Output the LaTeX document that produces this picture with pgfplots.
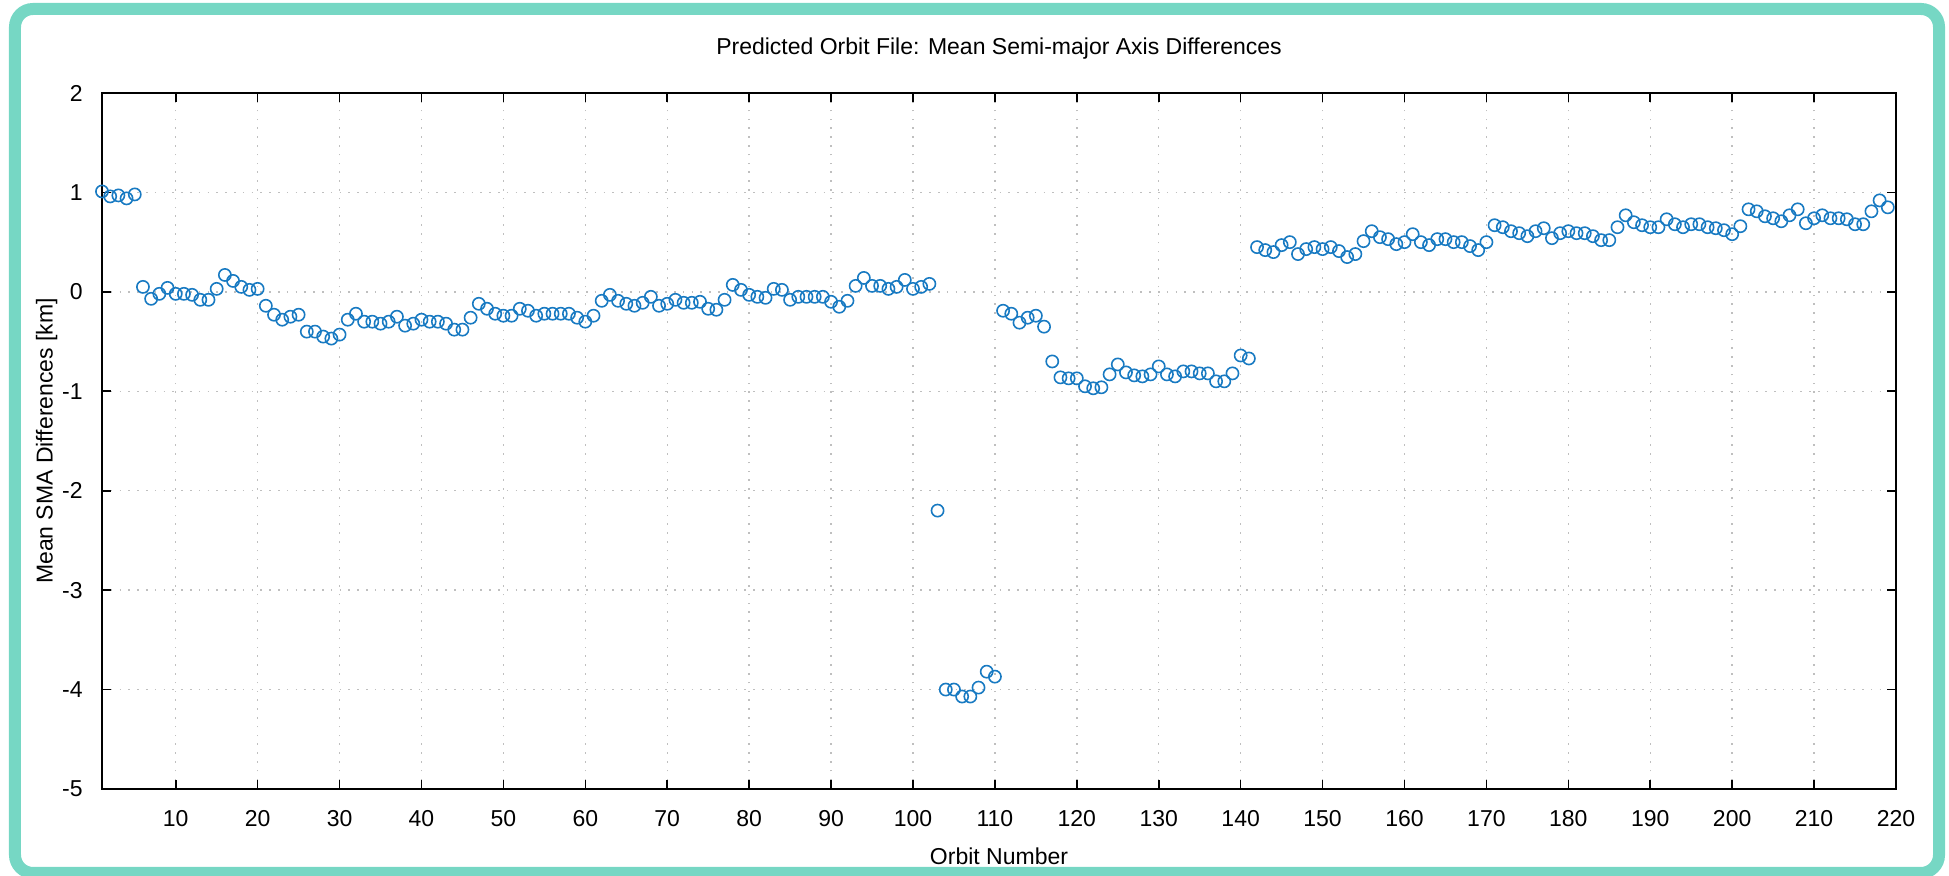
\documentclass[border=0pt]{standalone}
\usepackage{fontspec}
\setmainfont{Liberation Sans}
\usepackage{pgfplots}
\usepackage{pgfplotstable}
\pgfplotsset{compat=1.18}

\definecolor{octblue}{RGB}{24,122,194}
\definecolor{frameteal}{RGB}{118,215,196}

% orbit number vs. mean SMA difference [km]
\pgfplotstableread{
n d
1 1.01
2 0.96
3 0.97
4 0.94
5 0.98
6 0.05
7 -0.07
8 -0.02
9 0.04
10 -0.02
11 -0.02
12 -0.03
13 -0.08
14 -0.08
15 0.03
16 0.17
17 0.11
18 0.05
19 0.02
20 0.03
21 -0.14
22 -0.23
23 -0.28
24 -0.25
25 -0.23
26 -0.40
27 -0.40
28 -0.45
29 -0.47
30 -0.43
31 -0.28
32 -0.22
33 -0.30
34 -0.30
35 -0.32
36 -0.30
37 -0.25
38 -0.34
39 -0.32
40 -0.28
41 -0.30
42 -0.30
43 -0.32
44 -0.38
45 -0.38
46 -0.26
47 -0.12
48 -0.17
49 -0.22
50 -0.24
51 -0.24
52 -0.17
53 -0.19
54 -0.24
55 -0.22
56 -0.22
57 -0.22
58 -0.22
59 -0.26
60 -0.30
61 -0.24
62 -0.09
63 -0.03
64 -0.09
65 -0.12
66 -0.14
67 -0.11
68 -0.05
69 -0.14
70 -0.12
71 -0.08
72 -0.11
73 -0.11
74 -0.10
75 -0.17
76 -0.18
77 -0.08
78 0.07
79 0.02
80 -0.03
81 -0.05
82 -0.06
83 0.03
84 0.02
85 -0.08
86 -0.05
87 -0.05
88 -0.05
89 -0.05
90 -0.10
91 -0.15
92 -0.09
93 0.06
94 0.14
95 0.06
96 0.06
97 0.03
98 0.05
99 0.12
100 0.03
101 0.05
102 0.08
103 -2.20
104 -4.00
105 -4.00
106 -4.07
107 -4.07
108 -3.98
109 -3.82
110 -3.87
111 -0.19
112 -0.22
113 -0.31
114 -0.26
115 -0.24
116 -0.35
117 -0.70
118 -0.86
119 -0.87
120 -0.87
121 -0.95
122 -0.97
123 -0.96
124 -0.83
125 -0.73
126 -0.81
127 -0.84
128 -0.85
129 -0.83
130 -0.75
131 -0.83
132 -0.85
133 -0.80
134 -0.80
135 -0.82
136 -0.82
137 -0.90
138 -0.90
139 -0.82
140 -0.64
141 -0.67
142 0.45
143 0.42
144 0.40
145 0.47
146 0.50
147 0.38
148 0.43
149 0.45
150 0.43
151 0.45
152 0.41
153 0.35
154 0.38
155 0.51
156 0.61
157 0.55
158 0.53
159 0.48
160 0.50
161 0.58
162 0.50
163 0.47
164 0.53
165 0.53
166 0.50
167 0.50
168 0.46
169 0.42
170 0.50
171 0.67
172 0.65
173 0.61
174 0.59
175 0.56
176 0.61
177 0.64
178 0.54
179 0.59
180 0.61
181 0.59
182 0.59
183 0.56
184 0.52
185 0.52
186 0.65
187 0.77
188 0.70
189 0.67
190 0.65
191 0.65
192 0.73
193 0.68
194 0.65
195 0.68
196 0.68
197 0.65
198 0.64
199 0.62
200 0.58
201 0.66
202 0.83
203 0.81
204 0.76
205 0.74
206 0.71
207 0.77
208 0.83
209 0.69
210 0.74
211 0.77
212 0.74
213 0.74
214 0.73
215 0.68
216 0.68
217 0.81
218 0.92
219 0.85
}\smadiff

\begin{document}
\begin{tikzpicture}
  % page = whole screenshot, axis box sits at (0,0)-(897,348)pt
  \useasboundingbox (-51pt,-43.5pt) rectangle (923.5pt,394.5pt);
  \draw[frameteal, line width=6pt, rounded corners=9pt]
    (-43.5pt,-42pt) rectangle (918.5pt,390pt);
  \begin{axis}[
      at={(0,0)}, anchor=south west,
      scale only axis,
      width=897pt, height=348pt,
      xmin=1, xmax=220,
      ymin=-5, ymax=2,
      xtick={10,20,...,220},
      ytick={-5,-4,...,2},
      axis line style={line width=0.8pt},
      major tick style={line width=0.8pt, black},
      major tick length=4.5pt,
      tick align=inside,
      grid=major,
      grid style={gray!50, line width=0.7pt, dash pattern=on 0.8pt off 3.6pt},
      clip=false,
      font=\fontsize{11.5}{13.5}\selectfont,
      /pgf/number format/assume math mode=true,
      xticklabel style={anchor=base, yshift=-19pt, inner sep=0pt},
      yticklabel style={anchor=east, xshift=-9.5pt, inner sep=0pt},
      title={Predicted Orbit File: Mean Semi-major Axis Differences},
      title style={at={(0.5,1)}, anchor=base, yshift=13.2pt, inner sep=0pt},
      xlabel={Orbit Number},
      xlabel style={at={(0.5,0)}, anchor=base, yshift=-38pt, inner sep=0pt},
      ylabel={Mean SMA Differences [km]},
      ylabel style={at={(axis description cs:-0.0309,0.5)}, anchor=center, rotate=0, inner sep=0pt},
    ]
    \addplot[only marks, mark=o, mark size=3.05pt, octblue,
             mark options={line width=0.8pt}]
      table[x=n, y=d] {\smadiff};
  \end{axis}
\end{tikzpicture}
\end{document}
